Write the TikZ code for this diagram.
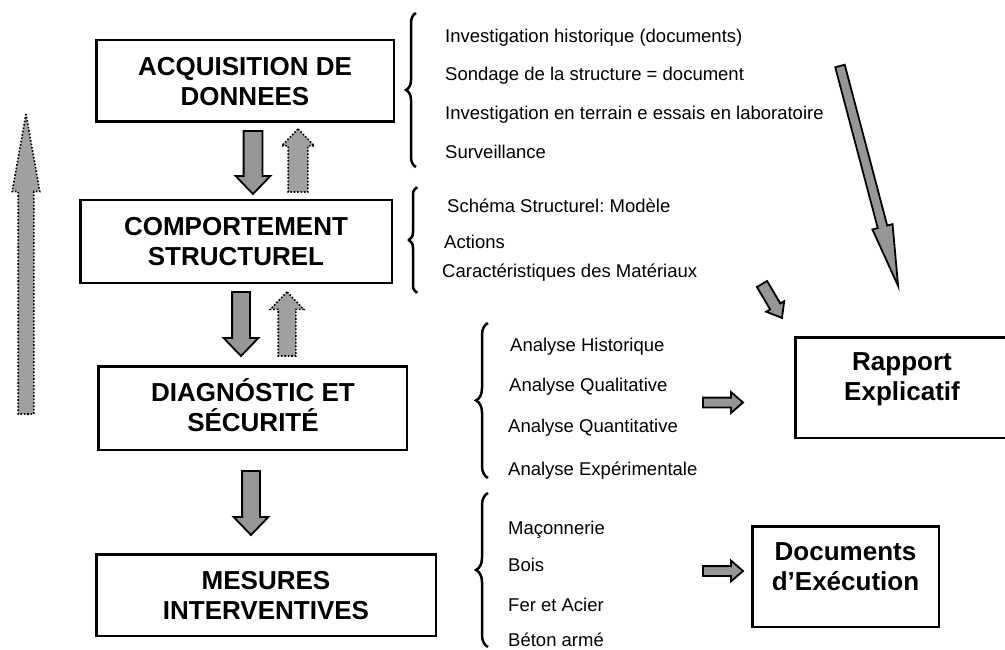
\documentclass[tikz,border=0pt]{standalone}
\usepackage{fontspec}
\setmainfont{Liberation Sans}
\usetikzlibrary{shapes.arrows,decorations.pathreplacing}
\definecolor{arrowgray}{RGB}{150,150,150}
\definecolor{dotgray}{RGB}{160,160,160}
\frenchspacing
\begin{document}
\begin{tikzpicture}[x=1pt,y=-1pt,
  box/.style={draw, line width=2.5pt, rectangle, inner sep=0pt, outer sep=0pt},
  boxtext/.style={font=\fontsize{26}{30}\selectfont\bfseries, align=center, inner sep=0pt},
  item/.style={font=\fontsize{18.5}{22}\selectfont, anchor=base west, inner sep=0pt},
  shaft/.style={inner xsep=0pt, inner ysep=#1/2},
  solidarrow/.style={single arrow, draw=black, fill=arrowgray, line width=1.8pt, outer sep=0pt, anchor=tail},
  dotarrow/.style={single arrow, draw=black, fill=dotgray, line width=1.6pt, dash pattern=on 1.6pt off 1.8pt, outer sep=0pt, anchor=tail},
  brc/.style={decorate, decoration={brace, amplitude=#1}, line width=2.5pt}
]
\useasboundingbox (0,0) rectangle (1005,650);
\clip (0,0) rectangle (1005,650);

% boxes
\node[box, minimum width=297.5, minimum height=81.5] (b1) at (245,81) {};
\node[box, minimum width=311.5, minimum height=82.5] (b2) at (236,241.5) {};
\node[box, minimum width=308.5, minimum height=83.5] (b3) at (252.5,408) {};
\node[box, minimum width=339.5, minimum height=81.5] (b4) at (266,595) {};
\node[box, minimum width=215.5, minimum height=100.5] (br) at (903,387.5) {};
\node[box, minimum width=186.5, minimum height=100.5] (bd) at (845.5,576.5) {};

% box texts
\node[boxtext] (t1) at (245,81.7) {ACQUISITION DE\\DONNEES};
\node[boxtext] (t2) at (236,241.7) {COMPORTEMENT\\STRUCTUREL};
\node[boxtext] (t3) at (253,407.4) {DIAGN\smash{Ó}STIC ET\\S\smash{É}CURIT\smash{É}};
\node[boxtext] (t4) at (266,595.7) {MESURES\\INTERVENTIVES};
\node[boxtext] (tr) at (902,379.5) {Rapport\\Explicatif};
\node[boxtext] (td) at (845.5,566.4) {Documents\\d’Exécution};

% braces
\draw[brc=10pt] (416,167) -- (416,13);
\draw[brc=8pt] (417,293) -- (417,187);
\draw[brc=12pt] (488,478) -- (488,323);
\draw[brc=12pt] (488,647) -- (488,493);

% item texts
\node[item] (i1) at (445,42.3) {Investigation historique (documents)};
\node[item] (i2) at (445,81) {Sondage de la structure = document};
\node[item] (i3) at (445,120) {Investigation en terrain e essais en laboratoire};
\node[item] (i4) at (445,158.3) {Surveillance};
\node[item] (i5) at (447,212) {Schéma Structurel: Modèle};
\node[item] (i6) at (444,248.3) {Actions};
\node[item] (i7) at (442,277.7) {Caractéristiques des Matériaux};
\node[item] (i8) at (510,351.7) {Analyse Historique};
\node[item] (i9) at (509,391.7) {Analyse Qualitative};
\node[item] (i10) at (508,432) {Analyse Quantitative};
\node[item] (i11) at (508,475.7) {Analyse Expérimentale};
\node[item] (i12) at (508,534) {Maçonnerie};
\node[item] (i13) at (508,571.7) {Bois};
\node[item] (i14) at (508,611.7) {Fer et Acier};
\node[item] (i15) at (508,646.5) {Béton armé};

% solid block arrows
\node[solidarrow, shaft=17pt, rotate=-90, minimum height=63, single arrow head extend=8, single arrow tip angle=88] (a1) at (253,131) {};
\node[solidarrow, shaft=16pt, rotate=-90, minimum height=64, single arrow head extend=8.5, single arrow tip angle=88] (a2) at (241,292) {};
\node[solidarrow, shaft=16pt, rotate=-90, minimum height=64, single arrow head extend=8.5, single arrow tip angle=88] (a3) at (251,471) {};
\node[solidarrow, shaft=8pt, rotate=0, minimum height=40, single arrow head extend=5.5, single arrow tip angle=82] (ar) at (703,402.5) {};
\node[solidarrow, shaft=8pt, rotate=0, minimum height=40, single arrow head extend=5.5, single arrow tip angle=82] (ad) at (703,571) {};
\node[solidarrow, shaft=8pt, rotate=-75.2, minimum height=227.5, single arrow head extend=5.5, single arrow tip angle=19.3] (along) at (840,66) {};
\node[solidarrow, shaft=10pt, rotate=-59.5, minimum height=39.4, single arrow head extend=4.5, single arrow tip angle=76] (ashort) at (762,284) {};

% dotted block arrows
\node[dotarrow, shaft=18pt, rotate=90, minimum height=63, single arrow head extend=6.5, single arrow tip angle=88] (d1) at (298,192) {};
\node[dotarrow, shaft=16pt, rotate=90, minimum height=64, single arrow head extend=8, single arrow tip angle=88] (d2) at (287,356) {};
\node[dotarrow, shaft=14pt, rotate=90, minimum height=300, single arrow head extend=6, single arrow tip angle=20.2] (dl) at (26,414) {};
\end{tikzpicture}
\end{document}
